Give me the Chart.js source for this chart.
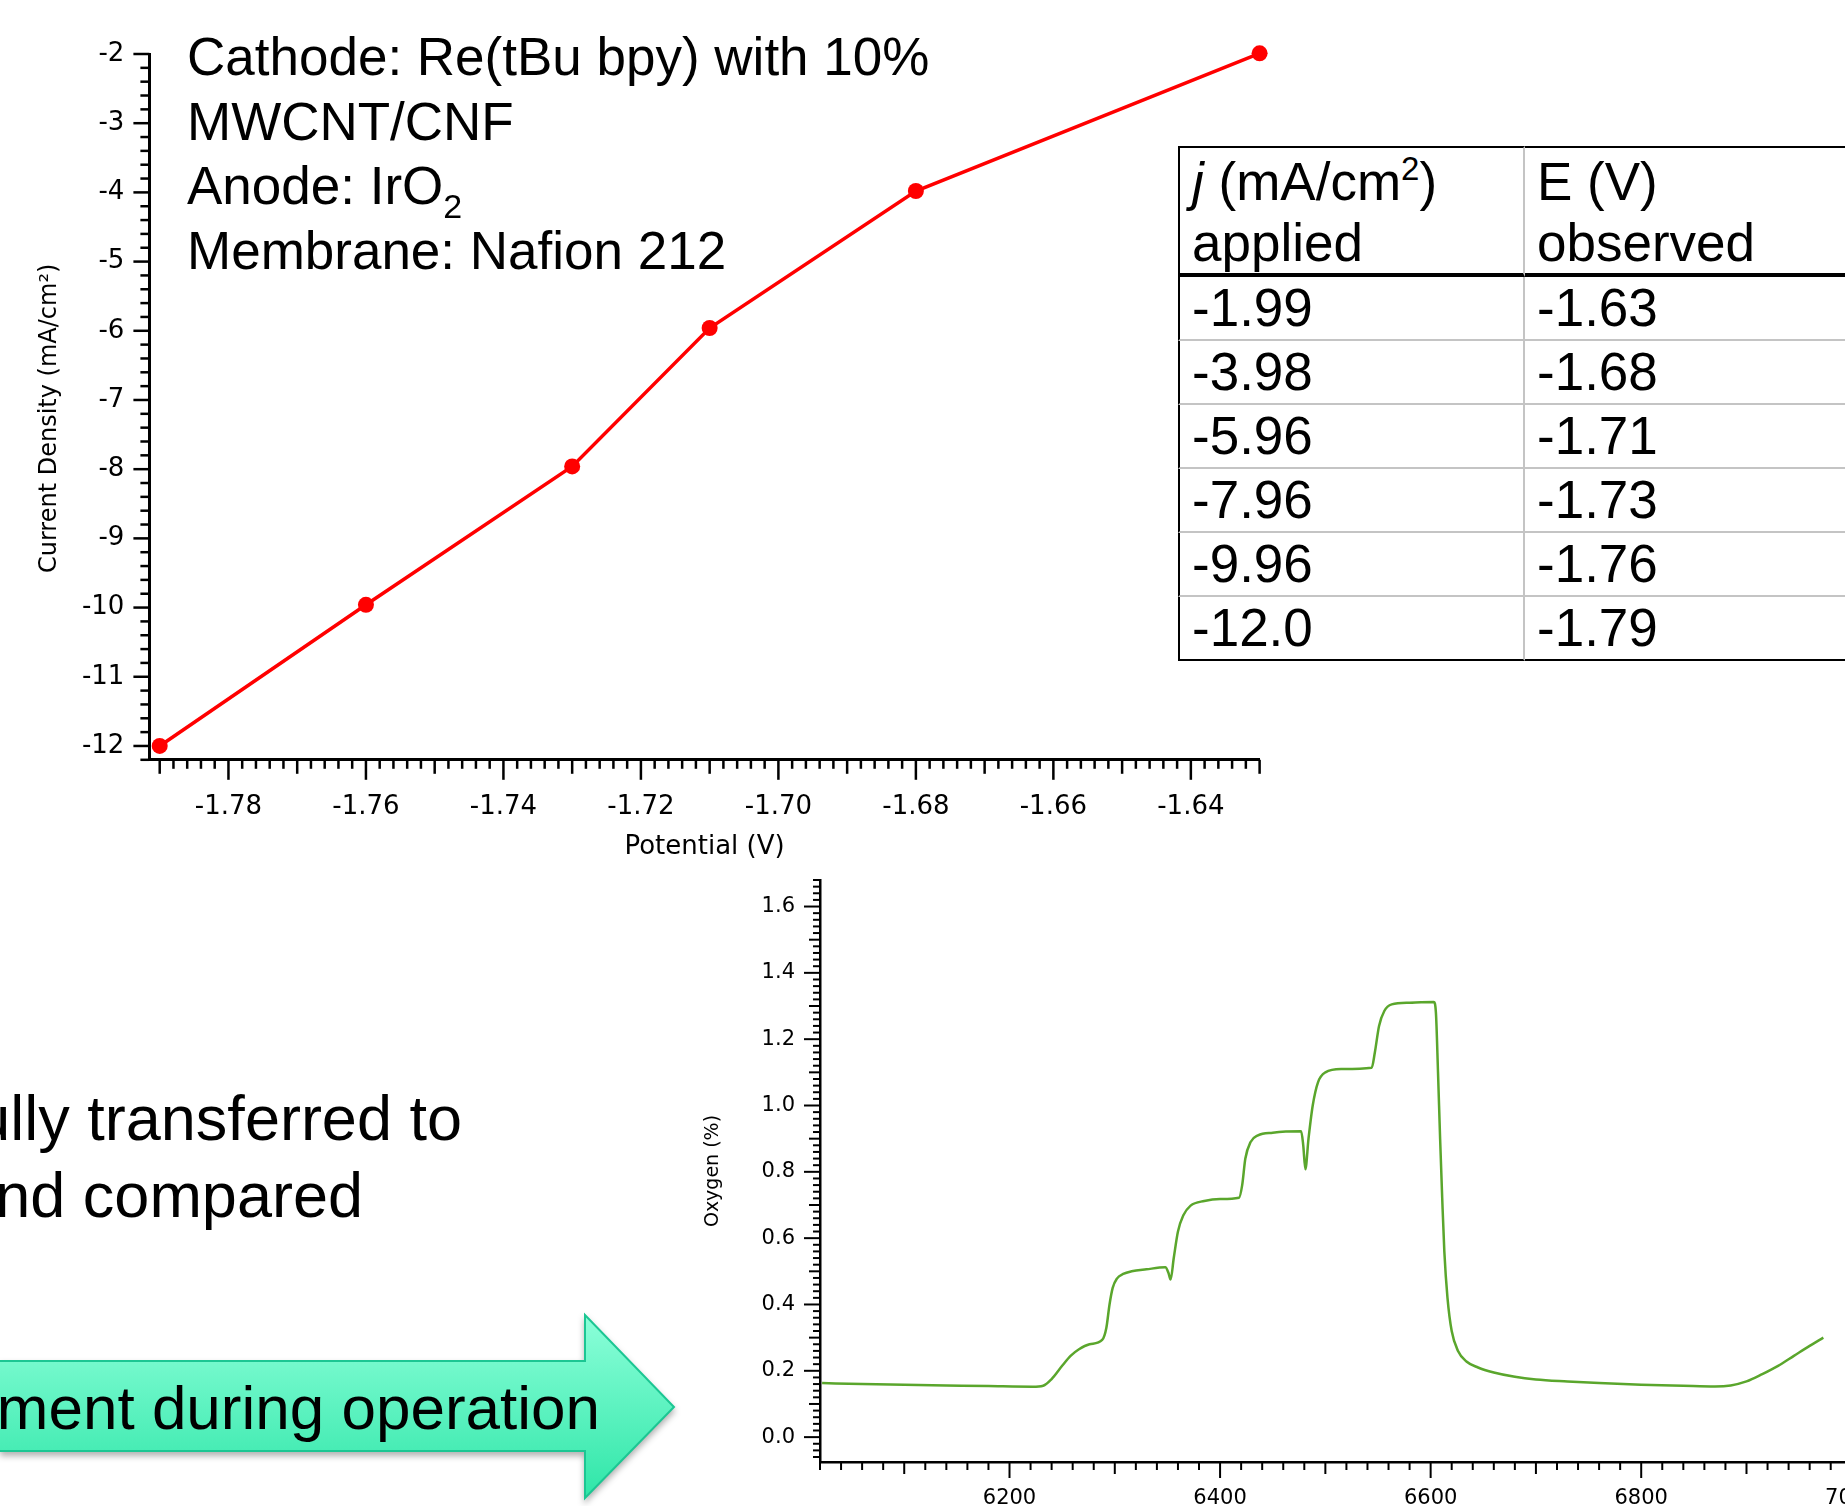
<!DOCTYPE html>
<html>
<head>
<meta charset="utf-8">
<script src="https://cdn.jsdelivr.net/npm/chart.js@4.4.1/dist/chart.umd.min.js"></script>
<style>
html,body{margin:0;padding:0;background:#fff;}
body{width:1845px;height:1506px;position:relative;overflow:hidden;font-family:"Liberation Sans",Arial,sans-serif;color:#000;}
canvas{position:absolute;}
#chartPolar{left:0;top:0;}
#chartOxygen{left:700px;top:840px;}
.note{position:absolute;left:187px;top:25px;font-size:53px;line-height:64.5px;white-space:nowrap;}
.note sub{font-size:34px;line-height:0;vertical-align:-14px;}
.slide{position:absolute;font-size:63px;line-height:75px;white-space:nowrap;text-align:right;}
#arrow{position:absolute;left:0;top:1300px;filter:drop-shadow(0 4px 3px rgba(0,0,0,0.3));}
#tbl{position:absolute;left:1178px;top:146px;border-collapse:separate;border-spacing:0;table-layout:fixed;width:1000px;font-size:53px;background:#fff;}
#tbl th,#tbl td{text-align:left;font-weight:normal;padding:0 0 0 12px;white-space:nowrap;vertical-align:top;}
#tbl th{line-height:61px;padding-top:3px;border-top:2px solid #000;border-bottom:4px solid #000;}
#tbl td{line-height:62px;border-bottom:2px solid #c4c4c4;}
#tbl tr:last-child td{border-bottom:2px solid #000;}
#tbl .c1{border-left:2px solid #000;border-right:2px solid #c4c4c4;width:331px;}
#tbl sup{font-size:33px;line-height:0;vertical-align:20px;}
</style>
</head>
<body>

<canvas id="chartPolar" width="1300" height="880"></canvas>
<canvas id="chartOxygen" width="1260" height="666"></canvas>

<div class="note">Cathode: Re(tBu bpy) with 10%<br>MWCNT/CNF<br>Anode: IrO<sub>2</sub><br>Membrane: Nafion 212</div>

<table id="tbl">
<thead><tr><th class="c1"><i>j</i> (mA/cm<sup>2</sup>)<br>applied</th><th>E (V)<br>observed</th></tr></thead>
<tbody id="tblBody"></tbody>
</table>

<div class="slide" style="right:1383px;top:1081px;">ully transferred to</div>
<div class="slide" style="right:1482px;top:1158px;">nd compared</div>

<svg id="arrow" width="700" height="206">
<defs>
<linearGradient id="arrowFill" x1="0" y1="0" x2="0" y2="1">
<stop offset="0" stop-color="#8cffd9"/>
<stop offset="1" stop-color="#2fe6a8"/>
</linearGradient>
</defs>
<polygon points="-10,61 585,61 585,15 674,107 585,198 585,151 -10,151" fill="url(#arrowFill)" stroke="#1cc693" stroke-width="2"/>
</svg>
<div class="slide" style="right:1245px;top:1373px;font-size:62px;line-height:70px;">ment during operation</div>

<script>
// polarisation curve: cell potential vs applied current density
const potential = [-1.79, -1.76, -1.73, -1.71, -1.68, -1.63];
const currentDensity = [-12.0, -9.96, -7.96, -5.96, -3.98, -1.99];
const polarXTicks = [-1.78, -1.76, -1.74, -1.72, -1.70, -1.68, -1.66, -1.64];
const polarYTicks = [-12, -11, -10, -9, -8, -7, -6, -5, -4, -3, -2];

// oxygen in the anode stream during the run
const o2Time = [6022, 6060, 6100, 6140, 6180, 6222, 6232, 6240, 6250, 6258, 6266, 6276, 6288,
  6292, 6295, 6298, 6302, 6308, 6316, 6330, 6348, 6351, 6353, 6356, 6360, 6365, 6372, 6385, 6400, 6418,
  6421, 6424, 6429, 6436, 6450, 6477, 6479, 6481, 6484, 6488, 6493, 6500, 6515, 6544,
  6547, 6551, 6556, 6563, 6580, 6603, 6605, 6607, 6609, 6611, 6613, 6616, 6620, 6626, 6634, 6645,
  6660, 6680, 6700, 6730, 6760, 6800, 6840, 6870, 6885, 6900, 6915, 6930, 6945, 6960, 6973];
const o2Level = [0.163, 0.160, 0.158, 0.156, 0.154, 0.152, 0.155, 0.175, 0.215, 0.245, 0.265, 0.280, 0.293,
  0.330, 0.400, 0.450, 0.478, 0.492, 0.500, 0.506, 0.512, 0.495, 0.475, 0.540, 0.620, 0.668, 0.698, 0.712, 0.718, 0.722,
  0.760, 0.840, 0.890, 0.910, 0.918, 0.922, 0.880, 0.808, 0.900, 1.000, 1.070, 1.100, 1.110, 1.114,
  1.160, 1.240, 1.285, 1.305, 1.310, 1.312, 1.280, 1.100, 0.900, 0.720, 0.560, 0.420, 0.320, 0.260, 0.228, 0.210,
  0.195, 0.182, 0.174, 0.168, 0.163, 0.158, 0.155, 0.153, 0.156, 0.168, 0.190, 0.215, 0.245, 0.275, 0.300];
const o2XTicks = [6200, 6400, 6600, 6800, 7000];
const o2YTicks = [0, 0.2, 0.4, 0.6, 0.8, 1.0, 1.2, 1.4, 1.6];

/* TABLE (same values, highest current density last) */

let body = document.getElementById('tblBody');
for (let i = potential.length - 1; i >= 0; i--) {
  let tr = document.createElement('tr');
  tr.innerHTML = '<td class="c1">' + currentDensity[i].toPrecision(3) + '</td><td>' + potential[i].toFixed(2) + '</td>';
  body.appendChild(tr);
}

/* TICK MARKS, igor style: minor / medium / major */

const tickMarks = {
  id: 'tickMarks',
  afterDraw(chart, args, opts) {
    const ctx = chart.ctx;
    ['x', 'y'].forEach(id => {
      const s = chart.scales[id];
      const o = opts[id];
      ctx.save();
      ctx.strokeStyle = '#000';
      ctx.lineWidth = o.width;
      const start = Math.ceil(s.min / o.step - 1e-6);
      const end = Math.floor(s.max / o.step + 1e-6);
      for (let k = start; k <= end; k++) {
        let len = o.len[0];
        if (Math.abs(k % o.every[1]) === 0) len = o.len[2];
        else if (Math.abs(k % o.every[0]) === 0) len = o.len[1];
        const p = s.getPixelForValue(k * o.step);
        ctx.beginPath();
        if (id === 'x') { ctx.moveTo(p, s.top); ctx.lineTo(p, s.top + len); }
        else { ctx.moveTo(s.right, p); ctx.lineTo(s.right - len, p); }
        ctx.stroke();
      }
      ctx.restore();
    });
  }
};

const igorFont = 'DejaVu Sans';

/* GRAPH 1 : polarisation */

new Chart(document.getElementById('chartPolar'), {
  type: 'line',
  data: {
    datasets: [{
      data: potential.map((v, i) => ({x: v, y: currentDensity[i]})),
      borderColor: '#ff0000',
      backgroundColor: '#ff0000',
      borderWidth: 3.5,
      pointRadius: 8,
      pointBorderWidth: 0,
      pointBackgroundColor: '#ff0000',
      clip: false
    }]
  },
  options: {
    responsive: false,
    animation: false,
    layout: {padding: {left: 0, top: 54, right: 40.4, bottom: 0}},
    plugins: {
      legend: {display: false},
      tooltip: {enabled: false},
      tickMarks: {
        x: {step: 0.002, every: [5, 10], len: [9, 14, 20], width: 2.5},
        y: {step: 0.2, every: [5, 5], len: [9, 16, 16], width: 2.5}
      }
    },
    scales: {
      x: {
        type: 'linear', min: -1.7915, max: -1.63,
        afterFit: s => { s.height = 120.2; },
        afterBuildTicks: s => { s.ticks = polarXTicks.map(v => ({value: v})); },
        grid: {display: false, drawTicks: false},
        border: {display: true, color: '#000', width: 3},
        ticks: {padding: 32, autoSkip: false, maxRotation: 0, color: '#000', font: {family: igorFont, size: 26}, callback: v => v.toFixed(2)},
        title: {display: true, text: 'Potential (V)', color: '#000', font: {family: igorFont, size: 26}, padding: {top: 0, bottom: 17}}
      },
      y: {
        type: 'linear', min: -12.2, max: -2,
        afterFit: s => { s.width = 149.4; },
        afterBuildTicks: s => { s.ticks = polarYTicks.map(v => ({value: v})); },
        grid: {display: false, drawTicks: false},
        border: {display: true, color: '#000', width: 3},
        ticks: {padding: 25, autoSkip: false, color: '#000', font: {family: igorFont, size: 26}, callback: v => String(v)},
        // trailing spaces push the rotated label a little lower, as in the source figure
        title: {display: true, text: 'Current Density (mA/cm²)   ', color: '#000', font: {family: igorFont, size: 24}, padding: {top: 35, bottom: 0}}
      }
    }
  },
  plugins: [tickMarks]
});

/* GRAPH 2 : oxygen */

new Chart(document.getElementById('chartOxygen'), {
  type: 'line',
  data: {
    datasets: [{
      data: o2Time.map((t, i) => ({x: t, y: o2Level[i]})),
      borderColor: '#5aa62c',
      borderWidth: 2.5,
      pointRadius: 0,
      cubicInterpolationMode: 'monotone',
      clip: false
    }]
  },
  options: {
    responsive: false,
    animation: false,
    layout: {padding: {left: 0, top: 40, right: 24, bottom: 0}},
    plugins: {
      legend: {display: false},
      tooltip: {enabled: false},
      tickMarks: {
        x: {step: 20, every: [5, 10], len: [8, 12, 16], width: 2},
        y: {step: 0.02, every: [5, 10], len: [7, 11, 16], width: 2}
      }
    },
    scales: {
      x: {
        type: 'linear', min: 6020, max: 7080,
        afterFit: s => { s.height = 44; },
        afterBuildTicks: s => { s.ticks = o2XTicks.map(v => ({value: v})); },
        grid: {display: false, drawTicks: false},
        border: {display: true, color: '#000', width: 2.5},
        ticks: {padding: 24, autoSkip: false, maxRotation: 0, color: '#000', font: {family: igorFont, size: 21}, callback: v => String(v)}
      },
      y: {
        type: 'linear', min: -0.075, max: 1.68,
        afterFit: s => { s.width = 120; },
        afterBuildTicks: s => { s.ticks = o2YTicks.map(v => ({value: v})); },
        grid: {display: false, drawTicks: false},
        border: {display: true, color: '#000', width: 2.5},
        ticks: {padding: 25, autoSkip: false, color: '#000', font: {family: igorFont, size: 21}, callback: v => v.toFixed(1)},
        title: {display: true, text: 'Oxygen (%)', color: '#000', font: {family: igorFont, size: 19}, padding: {top: 2, bottom: 0}}
      }
    }
  },
  plugins: [tickMarks]
});
</script>
</body>
</html>
